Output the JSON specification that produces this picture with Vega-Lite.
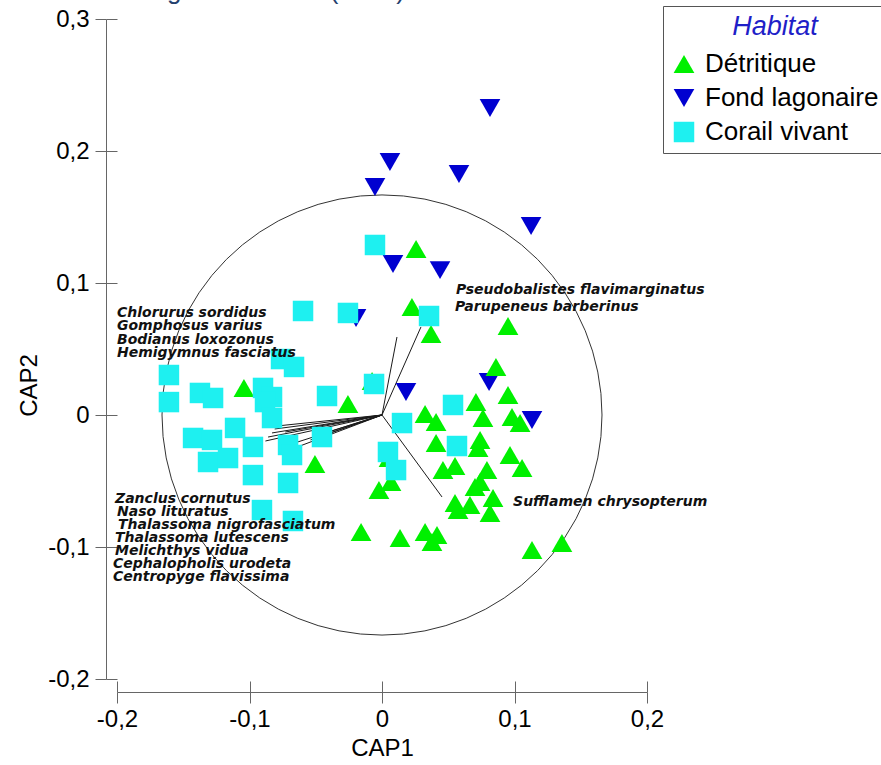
{
  "$schema": "https://vega.github.io/schema/vega-lite/v6.json",
  "width": 530,
  "height": 660,
  "autosize": {"type": "none"},
  "padding": {"left": 117, "top": 19, "right": 234, "bottom": 86},
  "background": "white",
  "config": {"view": {"stroke": null}, "font": "Liberation Sans"},
  "datasets": {
    "pts": [
      {"cap1": 0.0815, "cap2": 0.2326, "habitat": "Fond lagonaire"},
      {"cap1": 0.0060, "cap2": 0.1917, "habitat": "Fond lagonaire"},
      {"cap1": -0.0053, "cap2": 0.1727, "habitat": "Fond lagonaire"},
      {"cap1": 0.0581, "cap2": 0.1826, "habitat": "Fond lagonaire"},
      {"cap1": 0.1125, "cap2": 0.1432, "habitat": "Fond lagonaire"},
      {"cap1": 0.0083, "cap2": 0.1144, "habitat": "Fond lagonaire"},
      {"cap1": 0.0438, "cap2": 0.1098, "habitat": "Fond lagonaire"},
      {"cap1": -0.0196, "cap2": 0.0735, "habitat": "Fond lagonaire"},
      {"cap1": 0.0181, "cap2": 0.0174, "habitat": "Fond lagonaire"},
      {"cap1": 0.0808, "cap2": 0.0250, "habitat": "Fond lagonaire"},
      {"cap1": 0.1132, "cap2": -0.0038, "habitat": "Fond lagonaire"},
      {"cap1": 0.0257, "cap2": 0.1258, "habitat": "Détritique"},
      {"cap1": 0.0226, "cap2": 0.0818, "habitat": "Détritique"},
      {"cap1": 0.0370, "cap2": 0.0614, "habitat": "Détritique"},
      {"cap1": 0.0951, "cap2": 0.0674, "habitat": "Détritique"},
      {"cap1": -0.1042, "cap2": 0.0205, "habitat": "Détritique"},
      {"cap1": -0.0257, "cap2": 0.0083, "habitat": "Détritique"},
      {"cap1": -0.0075, "cap2": 0.0258, "habitat": "Détritique"},
      {"cap1": -0.0506, "cap2": -0.0371, "habitat": "Détritique"},
      {"cap1": 0.0325, "cap2": 0.0008, "habitat": "Détritique"},
      {"cap1": 0.0408, "cap2": -0.0053, "habitat": "Détritique"},
      {"cap1": 0.0762, "cap2": -0.0023, "habitat": "Détritique"},
      {"cap1": 0.0981, "cap2": -0.0015, "habitat": "Détritique"},
      {"cap1": 0.1042, "cap2": -0.0061, "habitat": "Détritique"},
      {"cap1": 0.0860, "cap2": 0.0364, "habitat": "Détritique"},
      {"cap1": 0.0951, "cap2": 0.0152, "habitat": "Détritique"},
      {"cap1": 0.0709, "cap2": 0.0098, "habitat": "Détritique"},
      {"cap1": 0.0408, "cap2": -0.0212, "habitat": "Détritique"},
      {"cap1": 0.0740, "cap2": -0.0189, "habitat": "Détritique"},
      {"cap1": 0.0725, "cap2": -0.0250, "habitat": "Détritique"},
      {"cap1": 0.0966, "cap2": -0.0303, "habitat": "Détritique"},
      {"cap1": 0.1057, "cap2": -0.0402, "habitat": "Détritique"},
      {"cap1": 0.0460, "cap2": -0.0417, "habitat": "Détritique"},
      {"cap1": 0.0551, "cap2": -0.0386, "habitat": "Détritique"},
      {"cap1": 0.0792, "cap2": -0.0417, "habitat": "Détritique"},
      {"cap1": 0.0740, "cap2": -0.0508, "habitat": "Détritique"},
      {"cap1": 0.0702, "cap2": -0.0545, "habitat": "Détritique"},
      {"cap1": 0.0551, "cap2": -0.0667, "habitat": "Détritique"},
      {"cap1": 0.0574, "cap2": -0.0720, "habitat": "Détritique"},
      {"cap1": 0.0664, "cap2": -0.0682, "habitat": "Détritique"},
      {"cap1": 0.0838, "cap2": -0.0629, "habitat": "Détritique"},
      {"cap1": 0.0815, "cap2": -0.0742, "habitat": "Détritique"},
      {"cap1": 0.0053, "cap2": -0.0326, "habitat": "Détritique"},
      {"cap1": 0.0068, "cap2": -0.0508, "habitat": "Détritique"},
      {"cap1": -0.0023, "cap2": -0.0568, "habitat": "Détritique"},
      {"cap1": -0.0158, "cap2": -0.0886, "habitat": "Détritique"},
      {"cap1": 0.0136, "cap2": -0.0932, "habitat": "Détritique"},
      {"cap1": 0.0325, "cap2": -0.0886, "habitat": "Détritique"},
      {"cap1": 0.0415, "cap2": -0.0909, "habitat": "Détritique"},
      {"cap1": 0.0377, "cap2": -0.0962, "habitat": "Détritique"},
      {"cap1": 0.1132, "cap2": -0.1023, "habitat": "Détritique"},
      {"cap1": 0.1358, "cap2": -0.0970, "habitat": "Détritique"},
      {"cap1": -0.0053, "cap2": 0.1288, "habitat": "Corail vivant"},
      {"cap1": -0.0596, "cap2": 0.0788, "habitat": "Corail vivant"},
      {"cap1": -0.0257, "cap2": 0.0773, "habitat": "Corail vivant"},
      {"cap1": 0.0355, "cap2": 0.0750, "habitat": "Corail vivant"},
      {"cap1": -0.0762, "cap2": 0.0424, "habitat": "Corail vivant"},
      {"cap1": -0.0664, "cap2": 0.0364, "habitat": "Corail vivant"},
      {"cap1": -0.1608, "cap2": 0.0303, "habitat": "Corail vivant"},
      {"cap1": -0.1608, "cap2": 0.0098, "habitat": "Corail vivant"},
      {"cap1": -0.1374, "cap2": 0.0167, "habitat": "Corail vivant"},
      {"cap1": -0.1275, "cap2": 0.0129, "habitat": "Corail vivant"},
      {"cap1": -0.0898, "cap2": 0.0205, "habitat": "Corail vivant"},
      {"cap1": -0.0830, "cap2": 0.0136, "habitat": "Corail vivant"},
      {"cap1": -0.0883, "cap2": 0.0098, "habitat": "Corail vivant"},
      {"cap1": -0.0415, "cap2": 0.0144, "habitat": "Corail vivant"},
      {"cap1": -0.0060, "cap2": 0.0235, "habitat": "Corail vivant"},
      {"cap1": -0.0830, "cap2": -0.0023, "habitat": "Corail vivant"},
      {"cap1": -0.1109, "cap2": -0.0098, "habitat": "Corail vivant"},
      {"cap1": -0.1426, "cap2": -0.0174, "habitat": "Corail vivant"},
      {"cap1": -0.1283, "cap2": -0.0189, "habitat": "Corail vivant"},
      {"cap1": -0.0974, "cap2": -0.0242, "habitat": "Corail vivant"},
      {"cap1": -0.0709, "cap2": -0.0227, "habitat": "Corail vivant"},
      {"cap1": -0.0679, "cap2": -0.0303, "habitat": "Corail vivant"},
      {"cap1": -0.0453, "cap2": -0.0167, "habitat": "Corail vivant"},
      {"cap1": -0.1313, "cap2": -0.0356, "habitat": "Corail vivant"},
      {"cap1": -0.1162, "cap2": -0.0326, "habitat": "Corail vivant"},
      {"cap1": -0.0974, "cap2": -0.0455, "habitat": "Corail vivant"},
      {"cap1": -0.0709, "cap2": -0.0515, "habitat": "Corail vivant"},
      {"cap1": -0.0906, "cap2": -0.0720, "habitat": "Corail vivant"},
      {"cap1": -0.0672, "cap2": -0.0803, "habitat": "Corail vivant"},
      {"cap1": 0.0045, "cap2": -0.0280, "habitat": "Corail vivant"},
      {"cap1": 0.0151, "cap2": -0.0061, "habitat": "Corail vivant"},
      {"cap1": 0.0106, "cap2": -0.0417, "habitat": "Corail vivant"},
      {"cap1": 0.0536, "cap2": 0.0076, "habitat": "Corail vivant"},
      {"cap1": 0.0566, "cap2": -0.0235, "habitat": "Corail vivant"}
    ],
    "vec": [
      {"x0": 0, "y0": 0, "x1": 0.0113, "y1": 0.0591},
      {"x0": 0, "y0": 0, "x1": 0.0294, "y1": 0.0667},
      {"x0": 0, "y0": 0, "x1": 0.0453, "y1": -0.0621},
      {"x0": 0, "y0": 0, "x1": -0.079, "y1": -0.0083},
      {"x0": 0, "y0": 0, "x1": -0.081, "y1": -0.0106},
      {"x0": 0, "y0": 0, "x1": -0.083, "y1": -0.0136},
      {"x0": 0, "y0": 0, "x1": -0.086, "y1": -0.0167},
      {"x0": 0, "y0": 0, "x1": -0.088, "y1": -0.0197},
      {"x0": 0, "y0": 0, "x1": -0.073, "y1": -0.0129},
      {"x0": 0, "y0": 0, "x1": -0.066, "y1": -0.0212},
      {"x0": 0, "y0": 0, "x1": -0.062, "y1": -0.0235},
      {"x0": 0, "y0": 0, "x1": -0.054, "y1": -0.0189},
      {"x0": 0, "y0": 0, "x1": -0.048, "y1": -0.0167},
      {"x0": 0, "y0": 0, "x1": -0.043, "y1": -0.0136}
    ],
    "labels": [
      {"name": "Chlorurus sordidus", "lx": -0.2, "ly": 0.0773},
      {"name": "Gomphosus varius", "lx": -0.2, "ly": 0.0674},
      {"name": "Bodianus loxozonus", "lx": -0.2, "ly": 0.0568},
      {"name": "Hemigymnus fasciatus", "lx": -0.2, "ly": 0.0470},
      {"name": "Zanclus cornutus", "lx": -0.2015, "ly": -0.0636},
      {"name": "Naso lituratus", "lx": -0.2, "ly": -0.0735},
      {"name": "Thalassoma nigrofasciatum", "lx": -0.1992, "ly": -0.0833},
      {"name": "Thalassoma lutescens", "lx": -0.2015, "ly": -0.0932},
      {"name": "Melichthys vidua", "lx": -0.2015, "ly": -0.1030},
      {"name": "Cephalopholis urodeta", "lx": -0.203, "ly": -0.1129},
      {"name": "Centropyge flavissima", "lx": -0.203, "ly": -0.1227},
      {"name": "Pseudobalistes flavimarginatus", "lx": 0.0558, "ly": 0.0947},
      {"name": "Parupeneus barberinus", "lx": 0.0551, "ly": 0.0818},
      {"name": "Sufflamen chrysopterum", "lx": 0.0989, "ly": -0.0659}
    ],
    "heading": [
      {"name": "Diagramme CAP (2009)", "lx": -0.1917, "ly": 0.3152}
    ]
  },
  "layer": [
    {
      "data": {"values": [{"cx": 0, "cy": 0}]},
      "mark": {"type": "point", "shape": "circle", "filled": false, "size": 193600, "stroke": "#333333", "strokeWidth": 1, "opacity": 1},
      "encoding": {
        "x": {"field": "cx", "type": "quantitative", "scale": {"domain": [-0.2, 0.2], "nice": false, "zero": false},
          "axis": {"orient": "bottom", "offset": 13, "values": [-0.2, -0.1, 0, 0.1, 0.2], "tickSize": -11, "domain": false, "labels": false, "title": null, "grid": false, "tickColor": "#666666", "tickWidth": 1}},
        "y": {"field": "cy", "type": "quantitative", "scale": {"domain": [-0.2, 0.3], "nice": false, "zero": false},
          "axis": {"orient": "left", "offset": 11, "values": [-0.2, -0.1, 0, 0.1, 0.2, 0.3], "tickSize": -11, "domain": false, "labels": false, "title": null, "grid": false, "tickColor": "#666666", "tickWidth": 1}}
      }
    },
    {
      "data": {"name": "vec"},
      "mark": {"type": "rule", "color": "#1a1a1a", "strokeWidth": 1},
      "encoding": {
        "x": {"field": "x0", "type": "quantitative", "axis": null},
        "y": {"field": "y0", "type": "quantitative", "axis": null},
        "x2": {"field": "x1"},
        "y2": {"field": "y1"}
      }
    },
    {
      "data": {"name": "pts"},
      "mark": {"type": "point", "filled": true, "opacity": 1, "strokeWidth": 0},
      "encoding": {
        "x": {"field": "cap1", "type": "quantitative",
          "axis": {"orient": "bottom", "offset": 13, "values": [-0.2, -0.1, 0, 0.1, 0.2], "tickSize": 11, "grid": false, "domainColor": "#666666", "tickColor": "#666666", "domainWidth": 1, "tickWidth": 1, "labelFontSize": 24, "labelColor": "#000000", "labelPadding": 4, "labelFlush": false, "labelExpr": "datum.value == 0 ? '0' : (datum.value < 0 ? '-' : '') + '0,' + round(abs(datum.value) * 10)", "title": "CAP1", "titleFontSize": 24, "titleFontWeight": "normal", "titleColor": "#000000", "titlePadding": 5}},
        "y": {"field": "cap2", "type": "quantitative",
          "axis": {"orient": "left", "offset": 11, "values": [-0.2, -0.1, 0, 0.1, 0.2, 0.3], "tickSize": 11, "grid": false, "domainColor": "#666666", "tickColor": "#666666", "domainWidth": 1, "tickWidth": 1, "labelFontSize": 24, "labelColor": "#000000", "labelPadding": 6, "labelFlush": false, "labelExpr": "datum.value == 0 ? '0' : (datum.value < 0 ? '-' : '') + '0,' + round(abs(datum.value) * 10)", "title": "CAP2", "titleFontSize": 24, "titleFontWeight": "normal", "titleColor": "#000000", "titlePadding": 6, "titleY": 366}},
        "shape": {"field": "habitat", "type": "nominal",
          "scale": {"domain": ["Détritique", "Fond lagonaire", "Corail vivant"], "range": ["triangle-up", "triangle-down", "square"]},
          "legend": {"title": "Habitat", "orient": "none", "legendX": 546, "legendY": -13, "titleFontSize": 27, "titleFontStyle": "italic", "titleFontWeight": "normal", "titleColor": "#1f1fc8", "titleAnchor": "middle", "titlePadding": 10, "labelFontSize": 26, "labelColor": "#000000", "labelOffset": 8, "labelLimit": 600, "symbolSize": 380, "symbolStrokeWidth": 0, "strokeColor": "#555555", "fillColor": "#ffffff", "padding": 8, "rowPadding": 8}},
        "color": {"field": "habitat", "type": "nominal",
          "scale": {"domain": ["Détritique", "Fond lagonaire", "Corail vivant"], "range": ["#00f000", "#0000d0", "#1ef0f0"]},
          "legend": {"title": "Habitat", "orient": "none", "legendX": 546, "legendY": -13, "titleFontSize": 27, "titleFontStyle": "italic", "titleFontWeight": "normal", "titleColor": "#1f1fc8", "titleAnchor": "middle", "titlePadding": 10, "labelFontSize": 26, "labelColor": "#000000", "labelOffset": 8, "labelLimit": 600, "symbolSize": 380, "symbolStrokeWidth": 0, "strokeColor": "#555555", "fillColor": "#ffffff", "padding": 8, "rowPadding": 8}},
        "size": {"field": "habitat", "type": "ordinal",
          "scale": {"domain": ["Détritique", "Fond lagonaire", "Corail vivant"], "range": [430, 420, 300]},
          "legend": null}
      }
    },
    {
      "data": {"name": "labels"},
      "mark": {"type": "text", "align": "left", "baseline": "middle", "fontSize": 14, "fontStyle": "italic", "fontWeight": "bold", "font": "DejaVu Sans", "color": "#111111"},
      "encoding": {
        "x": {"field": "lx", "type": "quantitative", "axis": null},
        "y": {"field": "ly", "type": "quantitative", "axis": null},
        "text": {"field": "name"}
      }
    },
    {
      "data": {"name": "heading"},
      "mark": {"type": "text", "align": "left", "baseline": "alphabetic", "fontSize": 26, "font": "Liberation Sans", "color": "#24406e"},
      "encoding": {
        "x": {"field": "lx", "type": "quantitative", "axis": null},
        "y": {"field": "ly", "type": "quantitative", "axis": null},
        "text": {"field": "name"}
      }
    }
  ],
  "resolve": {"axis": {"x": "independent", "y": "independent"}}
}
